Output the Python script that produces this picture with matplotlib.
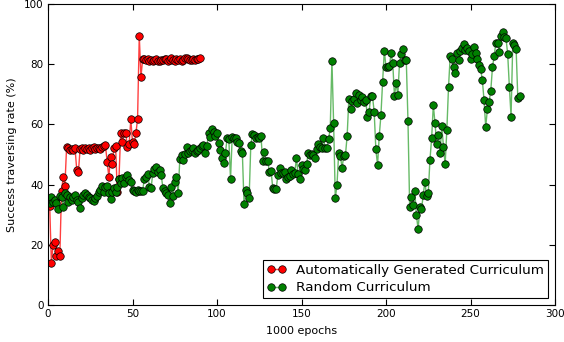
import matplotlib
matplotlib.use("Agg")
import matplotlib.pyplot as plt
import numpy as np

# ---------------- data ----------------
auto_vals = [33, 14, 20, 21, 16.3, 18, 16.3, 38, 42.4, 39.6,
             52.4, 52, 51.5, 51.8, 51.5, 52, 45, 44.3, 51.8, 52,
             51.5, 52.3, 51.8, 52.3, 51.5, 52, 52.5, 51.8, 52, 52.3,
             51.8, 52.5, 52.8, 53, 47.6, 42.6, 49.3, 47, 52, 52.8,
             37.5, 42, 57.2, 54, 57, 57, 52.6, 53.5, 61.8, 54,
             53.5, 57, 61.8, 89.4, 75.8, 81.6,
             81.8, 81.3, 81.6, 81.2, 81.5, 81.0, 81.4, 81.7, 81.2, 81.0,
             81.5, 81.3, 81.8, 81.6, 81.2, 81.5, 81.9, 81.3, 81.0, 81.6,
             81.4, 81.8, 81.2, 81.5, 81.9, 82.0, 81.6, 81.3, 81.5, 81.7,
             81.4, 81.6, 81.8, 82.0]

random_vals = [34, 36, 34.3, 35, 34, 32, 36.2, 36, 32.7, 37.3,
               36.5, 34.3, 35.8, 35, 35.8, 36.5, 35, 34.3, 32.3, 35.5,
               36.5, 37.3, 36.5, 36, 35.5, 35, 34.6, 35.5, 36.2, 37.6,
               38.2, 39.5, 37.6, 39.3, 39.6, 37.1, 35.1, 37.5, 38.8, 37.6,
               39.3, 41.8, 40.4, 42.1, 40.6, 42.6, 43.2, 41.5, 41, 38.2,
               38, 37.6, 38.2, 38, 37.8,
               38, 41.9, 42.6, 43.5, 39.3, 38.8, 43.8, 45.1, 45.9, 44.3,
               44.9, 43.2, 38.8, 38, 37.3, 36.5, 34, 39.1, 36.2, 41,
               42.6, 37.1, 48.4, 49.8, 48.2, 50.2, 52.6, 50.6, 51.3, 51.5,
               52, 50.6, 51.2, 51.5, 52, 52.9, 53.2, 50.4, 52.8, 57,
               55.9, 58.4, 57.6, 56.1, 57,
               53.7, 51.5, 48.7, 47.3, 50.6, 55.4, 55, 41.8, 55.9, 55.4,
               55.4, 54.3, 53.7, 51, 50.6, 33.5, 38.2, 37.3, 35.4, 53.2,
               56.8, 56.5, 55.4, 55.9, 55.4, 56.3, 47.9, 50.9, 47.9, 47.9,
               44.3, 44.5, 38.8, 38.4, 38.4, 43.2, 45.4, 43.8, 43.8, 44.3,
               41.8, 42.5, 42.9, 44.9, 43.5, 44, 48.7, 43.5, 41.8, 46.5,
               45.1, 44.9, 46.8, 50.6, 49.8, 50.2, 49.8, 48.7, 51.7, 53.5,
               52.6, 52, 55.4, 52, 52, 55, 58.7, 81.2, 60.6, 35.4,
               39.9, 50.6, 49.5, 45.6, 49.5, 49.8, 56.1, 68.3, 65, 67.8,
               68.3, 70.3, 67.2, 69.8, 68.1, 69, 67.5, 68.1, 62.4, 64.2,
               69.4, 69.4, 64.2, 51.7, 46.5, 56.1, 63.1, 74.2, 84.5, 79,
               79, 79.5, 83.6, 80.3, 69.4, 73.6, 69.8, 80.5, 83.4, 85,
               81.4, 81.4, 61.2, 32.7, 35.8, 33.2, 38, 29.9, 25.1, 32.4,
               31.8, 36.5, 41, 36.2, 37.1, 48.2, 55.4, 66.4, 60.4, 53.5,
               56.5, 50.6, 59.5, 52.6, 46.8, 58.1, 72.5, 82.7, 81.6, 79.2,
               77, 83.8, 81.4, 84.5, 85.3, 86.7, 84.7, 85.3, 84.5, 81.6,
               83.4, 85.8, 83.7, 81.6, 79.7,
               78.3, 74.8, 68.1, 59.2, 65, 67.5, 71.2, 79, 82.7, 87.1,
               87.1, 84.2, 89.4, 90.8, 88.9, 88.6, 83.4, 72.5, 62.6, 86.9,
               86.4, 85, 68.7, 69.4]

auto_x = np.arange(1, len(auto_vals) + 1)
random_x = np.arange(1, len(random_vals) + 1)

labels = ["Automatically Generated Curriculum", "Random Curriculum"]
xticks = [0, 50, 100, 150, 200, 250, 300]
yticks = [0, 20, 40, 60, 80, 100]

# ---------------- figure ----------------
plt.rcParams['font.family'] = ['DejaVu Sans']
fig = plt.figure(figsize=(5.64, 3.42), dpi=100)
ax = fig.add_axes([48/564, 1 - 305/342, (555-48)/564, (305-4)/342])

ax.plot(auto_x, auto_vals, '-o', color=(1, 0, 0, 0.75), lw=1.0,
        mfc='#ff0000', mec='black', mew=0.5, ms=5.4, label=labels[0])
ax.plot(random_x, random_vals, '-o', color=(0, 0.55, 0, 0.6), lw=1.0,
        mfc='#008000', mec='black', mew=0.5, ms=5.4, label=labels[1])

ax.set_xlim(0, 300)
ax.set_ylim(0, 100)
ax.set_xticks(xticks)
ax.set_yticks(yticks)
ax.tick_params(direction='in', top=True, right=True, length=4, width=0.8,
               labelsize=7.5, pad=3)
for s in ax.spines.values():
    s.set_color('black')
    s.set_linewidth(0.8)

ax.set_xlabel("1000 epochs", fontsize=8, labelpad=5)
ax.set_ylabel("Success traversing rate (%)", fontsize=8, labelpad=5)

leg = ax.legend(loc='lower right', fontsize=9.7, numpoints=2,
                fancybox=False, framealpha=1, edgecolor='black',
                handlelength=1.4, borderaxespad=0.5, borderpad=0.3,
                labelspacing=0.3, handletextpad=0.8)
leg.get_frame().set_linewidth(0.8)

fig.savefig("out.png", dpi=100)
